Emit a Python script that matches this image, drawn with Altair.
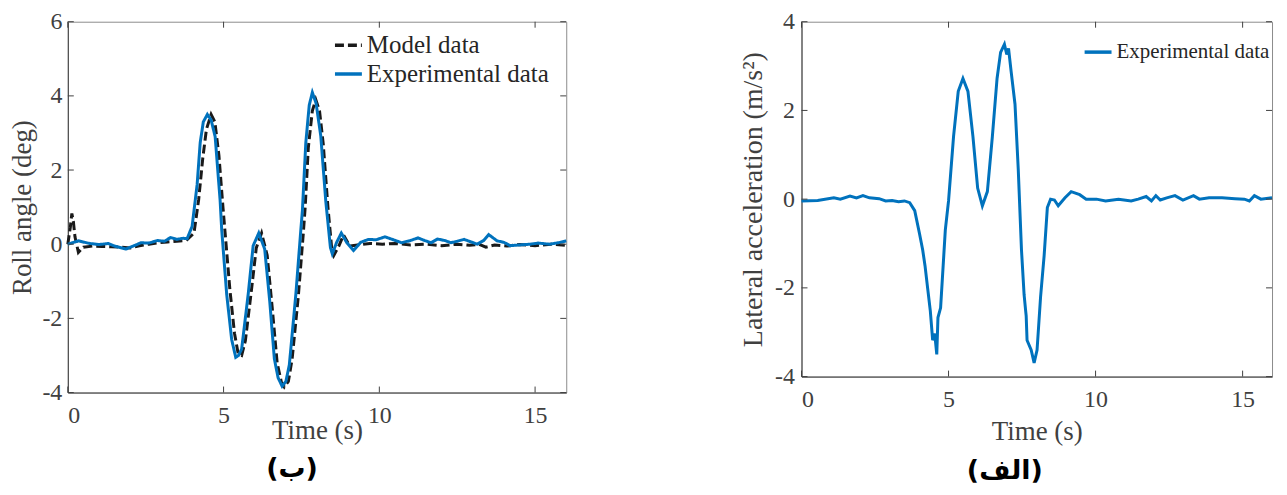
import altair as alt
import pandas as pd

# ---------------- data ----------------
x_ticks = [0, 5, 10, 15]
roll_y_ticks = [-4, -2, 0, 2, 4, 6]
acc_y_ticks = [-4, -2, 0, 2, 4]

roll_time = [0, 0.34, 0.7, 1.0, 1.3, 1.5, 1.87, 2.1, 2.35, 2.6, 2.88, 3.1, 3.3, 3.5, 3.7, 3.83,
             3.99, 4.15, 4.25, 4.35, 4.48, 4.6, 4.73, 4.89, 4.94, 5.1, 5.26, 5.39, 5.48, 5.58,
             5.79, 5.95, 6.13, 6.32, 6.48, 6.63, 6.75, 6.88, 7.0, 7.11, 7.32, 7.48, 7.53, 7.64,
             7.75, 7.85, 7.97, 8.12, 8.28, 8.43, 8.49, 8.63, 8.78, 8.95, 9.17, 9.4, 9.65, 9.9,
             10.18, 10.45, 10.71, 11.0, 11.24, 11.45, 11.66, 11.87, 12.1, 12.3, 12.5, 12.72,
             12.95, 13.14, 13.35, 13.51, 13.78, 14.0, 14.2, 14.5, 14.83, 15.1, 15.46, 15.75, 16.0]
roll_exp = [0, 0.09, 0.02, -0.01, 0.02, -0.05, -0.13, -0.05, 0.04, 0.03, 0.1, 0.08, 0.18, 0.13, 0.16, 0.15,
            0.48, 1.6, 2.74, 3.3, 3.5, 3.35, 2.9, 1.17, 0.39, -1.35, -2.57, -3.05, -3.0, -2.83,
            -1.35, -0.04, 0.3, -0.13, -1.52, -3.09, -3.6, -3.83, -3.7, -3.26, -1.35, 0.39, 0.9, 2.74,
            3.75, 4.09, 3.8, 2.92, 1.17, -0.09, -0.26, 0.05, 0.3, 0.05, -0.17, 0.05, 0.13, 0.12,
            0.2, 0.12, 0.04, 0.1, 0.17, 0.1, 0.04, 0.14, 0.1, 0.04, 0.08, 0.13,
            0.06, 0.0, 0.1, 0.26, 0.09, 0.05, -0.04, -0.02, 0.0, 0.03, 0.0, 0.04, 0.09]

model_time = [0, 0.08, 0.13, 0.18, 0.23, 0.34, 0.5, 0.8, 1.1, 1.4, 1.7, 2.0, 2.3, 2.6, 2.9, 3.2, 3.5, 3.8,
              4.05, 4.2, 4.33, 4.45, 4.6, 4.72, 4.85, 4.98, 5.05, 5.2, 5.35, 5.47, 5.58, 5.7,
              5.9, 6.05, 6.22, 6.4, 6.56, 6.72, 6.85, 6.95, 7.08, 7.2, 7.4, 7.56, 7.62, 7.72,
              7.85, 7.96, 8.08, 8.2, 8.35, 8.47, 8.54, 8.7, 8.85, 9.05, 9.3, 9.7, 10.1, 10.5,
              11.0, 11.5, 12.0, 12.5, 12.9, 13.2, 13.42, 13.7, 14.1, 14.5, 15.0, 15.5, 16.0]
model_vals = [0, 0.45, 0.83, 0.6, 0.2, -0.22, -0.08, -0.05, -0.06, -0.07, -0.08, -0.1, -0.04, 0.0, 0.04, 0.06, 0.08, 0.1,
              0.3, 1.2, 2.3, 3.1, 3.5, 3.3, 2.4, 1.0, 0.3, -1.2, -2.4, -2.96, -3.0, -2.6,
              -1.2, -0.1, 0.3, -0.3, -1.7, -3.2, -3.7, -3.85, -3.7, -3.1, -1.4, 0.3, 1.0, 2.6,
              3.6, 3.9, 3.6, 2.7, 1.0, -0.1, -0.3, -0.05, 0.25, -0.05, -0.02, 0.02, 0.0, 0.02,
              -0.02, 0.0, -0.04, 0.0, -0.03, 0.0, -0.08, -0.02, -0.05, -0.01, -0.04, 0.0, -0.03]

acc_time = [0, 0.55, 1.1, 1.32, 1.65, 1.87, 2.09, 2.31, 2.64, 2.86, 3.08, 3.3, 3.5, 3.68, 3.85, 4.01, 4.12,
            4.2, 4.29, 4.38, 4.46, 4.53, 4.6, 4.64, 4.73, 4.89, 5.0, 5.17, 5.33, 5.49, 5.66, 5.83,
            5.99, 6.15, 6.32, 6.49, 6.65, 6.77, 6.9, 6.98, 7.04, 7.13, 7.26, 7.37, 7.48, 7.57, 7.62,
            7.64, 7.67, 7.81, 7.91, 8.01, 8.13, 8.25, 8.36, 8.47, 8.6, 8.73, 8.96, 9.17, 9.46, 9.68,
            10.03, 10.34, 10.78, 11.21, 11.45, 11.72, 11.9, 12.05, 12.2, 12.42, 12.7, 12.97, 13.33,
            13.53, 13.86, 14.3, 14.74, 15.06, 15.23, 15.4, 15.62, 16.0]
acc_vals = [-0.04, -0.03, 0.03, 0.0, 0.07, 0.03, 0.08, 0.03, 0.01, -0.04, -0.03, -0.06, -0.04, -0.08, -0.26, -0.77, -1.14,
            -1.5, -2.01, -2.52, -3.18, -3.03, -3.5, -2.67, -2.45, -0.7, -0.04, 1.41, 2.43, 2.72, 2.43, 1.41,
            0.25, -0.15, 0.17, 1.41, 2.72, 3.31, 3.49, 3.26, 3.4, 2.87, 2.14, 0.68, -1.14, -2.16, -2.5,
            -2.63, -3.18, -3.4, -3.69, -3.4, -2.2, -1.28, -0.19, 0.0, -0.02, -0.15, 0.03, 0.17, 0.1, 0.0,
            0.0, -0.04, 0.0, -0.04, 0.0, 0.06, -0.04, 0.08, -0.02, 0.03, 0.08, -0.02, 0.08,
            0.0, 0.03, 0.03, 0.01, 0.0, -0.04, 0.08, 0.0, 0.03]

# ---------------- styling ----------------
SERIF = "Liberation Serif"
AX = "#404040"
BLUE = "#0072BD"
BLACK = "#1a1a1a"

W1, H1 = 500, 372
W2, H2 = 472, 356

roll_df = pd.concat([
    pd.DataFrame({"t": model_time, "v": model_vals, "series": "Model data"}),
    pd.DataFrame({"t": roll_time, "v": roll_exp, "series": "Experimental data"}),
])
acc_df = pd.DataFrame({"t": acc_time, "v": acc_vals, "series": "Experimental data"})


def inward_ticks(xs, ys, W, H, xscale, yscale):
    xt = pd.DataFrame({"t": xs})
    yt = pd.DataFrame({"v": ys})
    common = dict(color=AX, strokeWidth=1)
    b = alt.Chart(xt).mark_rule(**common).encode(
        x=alt.X("t:Q", scale=xscale), y=alt.value(H), y2=alt.value(H - 6))
    t = alt.Chart(xt).mark_rule(**common).encode(
        x=alt.X("t:Q", scale=xscale), y=alt.value(0), y2=alt.value(6))
    l = alt.Chart(yt).mark_rule(**common).encode(
        y=alt.Y("v:Q", scale=yscale), x=alt.value(0), x2=alt.value(6))
    r = alt.Chart(yt).mark_rule(**common).encode(
        y=alt.Y("v:Q", scale=yscale), x=alt.value(W - 6), x2=alt.value(W))
    return [b, t, l, r]


def axis_x(title_pad):
    return alt.Axis(values=x_ticks, labelPadding=11, titlePadding=title_pad)


def axis_y(vals, title_pad, lab_pad, tsize):
    return alt.Axis(values=vals, labelPadding=lab_pad, titlePadding=title_pad, titleFontSize=tsize)


def legend(x, y, size, rowpad):
    return alt.Legend(title=None, orient="none", legendX=x, legendY=y,
                      symbolType="stroke", symbolSize=729, symbolStrokeWidth=3.5,
                      labelFont=SERIF, labelFontSize=size, labelColor="#262626",
                      rowPadding=rowpad, labelOffset=3, labelLimit=0)


# ----- left panel (roll angle) -----
xs1 = alt.Scale(domain=[0, 16], nice=False)
ys1 = alt.Scale(domain=[-4, 6], nice=False)
dom = ["Model data", "Experimental data"]
color1 = alt.Color("series:N", scale=alt.Scale(domain=dom, range=[BLACK, BLUE]), legend=legend(266, 8, 25, 0))
dash1 = alt.StrokeDash("series:N", scale=alt.Scale(domain=dom, range=[[9, 4], [1, 0]]),
                       legend=legend(266, 8, 25, 0))

base1 = alt.Chart(roll_df)
model_line = base1.transform_filter(alt.datum.series == "Model data").mark_line(strokeWidth=3).encode(
    x=alt.X("t:Q", scale=xs1, axis=axis_x(-10), title="Time (s)"),
    y=alt.Y("v:Q", scale=ys1, axis=axis_y(roll_y_ticks, 5, 6, 27), title="Roll angle (deg)"),
    color=color1, strokeDash=dash1)
exp_line = base1.transform_filter(alt.datum.series == "Experimental data").mark_line(strokeWidth=3).encode(
    x=alt.X("t:Q", scale=xs1, title="Time (s)"),
    y=alt.Y("v:Q", scale=ys1, title="Roll angle (deg)"), color=color1, strokeDash=dash1)

left = alt.layer(model_line, exp_line, *inward_ticks(x_ticks, roll_y_ticks, W1, H1, xs1, ys1)).properties(
    width=W1, height=H1,
    title=alt.TitleParams("(ب)", orient="bottom", font="DejaVu Sans", fontSize=27, fontWeight="bold",
                          color="black", offset=13, dx=-25))

# ----- right panel (lateral acceleration) -----
xs2 = alt.Scale(domain=[0, 16], nice=False)
ys2 = alt.Scale(domain=[-4, 4], nice=False)
color2 = alt.Color("series:N", scale=alt.Scale(domain=["Experimental data"], range=[BLUE]),
                   legend=legend(282, 15, 21, 0))
acc_line = alt.Chart(acc_df).mark_line(strokeWidth=3).encode(
    x=alt.X("t:Q", scale=xs2, axis=axis_x(7), title="Time (s)"),
    y=alt.Y("v:Q", scale=ys2, axis=axis_y(acc_y_ticks, 7, 7, 28), title="Lateral acceleration (m/s²)"),
    color=color2)

right = alt.layer(acc_line, *inward_ticks(x_ticks, acc_y_ticks, W2, H2, xs2, ys2)).properties(
    width=W2, height=H2,
    title=alt.TitleParams("(الف)", orient="bottom", font="DejaVu Sans", fontSize=27, fontWeight="bold",
                          color="black", offset=14, dx=-32))

chart = alt.hconcat(left, right, spacing=166).resolve_scale(color="independent", strokeDash="independent") \
    .properties(padding={"left": 0, "top": 0, "right": 0, "bottom": 0}, background="white") \
    .configure_view(stroke="#8c8c8c", strokeWidth=1) \
    .configure_axis(domainColor=AX, labelColor=AX, titleColor=AX, labelFont=SERIF, titleFont=SERIF,
                    labelFontSize=24, titleFontSize=27, titleFontWeight="normal", grid=False,
                    tickSize=0, labelExpr="'' + datum.value")

chart.save("out.html", embed_options={"renderer": "svg", "actions": False})
